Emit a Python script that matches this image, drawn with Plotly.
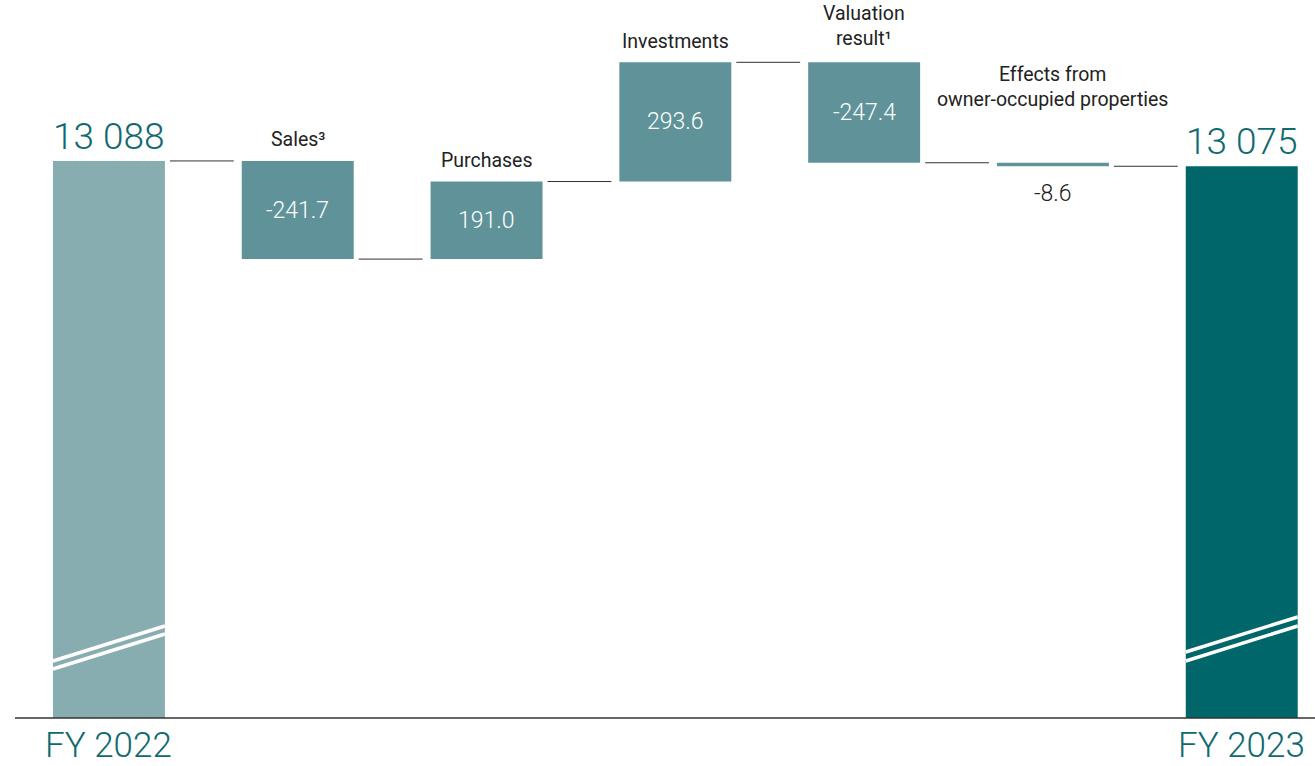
import plotly.graph_objects as go

# ---------------- data ----------------
start_label = "FY 2022"
end_label = "FY 2023"
start_value = 13088
end_value = 13075
step_labels = ["Sales³", "Purchases", "Investments", "Valuation<br>result¹",
               "Effects from<br>owner-occupied properties"]
step_values = [-241.7, 191.0, 293.6, -247.4, -8.6]

# ---------------- style ----------------
C_START = "#88adb1"
C_STEP = "#5f9399"
C_END = "#00666a"
C_TEXT_TEAL = "#0f6a6f"
C_TEXT = "#222222"
C_LINE = "#333333"
BAR_W = 0.593
PLOT_H = 718
label_shift = [8, 8, 7, 10, 50]

n = len(step_values) + 2
xs = list(range(n))

# running totals
levels = [start_value]
for v in step_values:
    levels.append(levels[-1] + v)

fig = go.Figure()

# total bars (clipped by the broken axis)
fig.add_trace(go.Bar(x=[0], y=[start_value], width=BAR_W, marker_color=C_START,
                     marker_line_width=0, hoverinfo="skip"))
fig.add_trace(go.Bar(x=[n - 1], y=[end_value], width=BAR_W, marker_color=C_END,
                     marker_line_width=0, hoverinfo="skip"))
# floating step bars
fig.add_trace(go.Bar(x=xs[1:-1], y=step_values, base=levels[:-1], width=BAR_W,
                     marker_color=C_STEP, marker_line_width=0, hoverinfo="skip"))

shapes = []
annotations = []
px = 1 / 188.8  # one pixel in x data units

# connectors
for i in range(n - 1):
    lvl = levels[i]
    shapes.append(dict(type="line", xref="x", yref="y",
                       x0=i + BAR_W / 2 + 5 * px, x1=i + 1 - BAR_W / 2 - 8 * px,
                       y0=lvl, y1=lvl, line=dict(color=C_LINE, width=1)))

# axis line
shapes.append(dict(type="line", xref="paper", yref="paper", x0=15 / 1315, x1=1,
                   y0=0, y1=0, line=dict(color=C_LINE, width=1.5)))


def py(p):
    return 1 - p / PLOT_H


# axis-break marks
for i, (a_l, a_r, b_l, b_r) in [(0, (661, 626, 669, 634)), (n - 1, (652, 617, 661, 626))]:
    x0 = i - BAR_W / 2
    x1 = i + BAR_W / 2
    shapes.append(dict(type="line", xref="x", yref="paper", x0=x0, x1=x1,
                       y0=py(a_l), y1=py(a_r), line=dict(color="white", width=3.5)))
    shapes.append(dict(type="line", xref="x", yref="paper", x0=x0, x1=x1,
                       y0=py(b_l), y1=py(b_r), line=dict(color="white", width=3.5)))


def fmt_total(v):
    return f"{v:,}".replace(",", " ")


# total labels
for x, v in [(0, start_value), (n - 1, end_value)]:
    annotations.append(dict(x=x, y=v, xref="x", yref="y", text=fmt_total(v),
                            showarrow=False, yanchor="bottom", yshift=1,
                            font=dict(family="Roboto", size=37, color=C_TEXT_TEAL, weight=300)))
for x, t in [(0, start_label), (n - 1, end_label)]:
    annotations.append(dict(x=x, y=0, xref="x", yref="paper", text=t, showarrow=False,
                            yanchor="top", yshift=-5,
                            font=dict(family="Roboto", size=35, color=C_TEXT_TEAL, weight=300)))

# step labels
for k, (lab, v) in enumerate(zip(step_labels, step_values)):
    x = k + 1
    lo = min(levels[k], levels[k + 1])
    hi = max(levels[k], levels[k + 1])
    annotations.append(dict(x=x, y=hi, xref="x", yref="y", text=lab, showarrow=False,
                            yanchor="bottom", yshift=label_shift[k],
                            font=dict(family="Roboto", size=19.5, color=C_TEXT)))
    txt = f"{v:.1f}"
    if abs(v) > 50:
        annotations.append(dict(x=x, y=(lo + hi) / 2, xref="x", yref="y", text=txt,
                                showarrow=False, yanchor="middle",
                                font=dict(family="Roboto", size=23, color="white", weight=300)))
    else:
        annotations.append(dict(x=x, y=lo, xref="x", yref="y", text=txt,
                                showarrow=False, yanchor="top", yshift=-12,
                                font=dict(family="Roboto", size=23, color=C_TEXT, weight=300)))

fig.update_layout(
    width=1315, height=766,
    margin=dict(l=0, r=0, t=0, b=48),
    paper_bgcolor="white", plot_bgcolor="white",
    showlegend=False, barmode="overlay",
    shapes=shapes, annotations=annotations,
    xaxis=dict(range=[-0.577, 6.388], visible=False, fixedrange=True),
    yaxis=dict(range=[11716, 13484.4], visible=False, fixedrange=True),
)

fig.write_html("out.html", config={"displayModeBar": False},
               post_script="document.body.style.margin='0';document.body.style.overflow='hidden';")
